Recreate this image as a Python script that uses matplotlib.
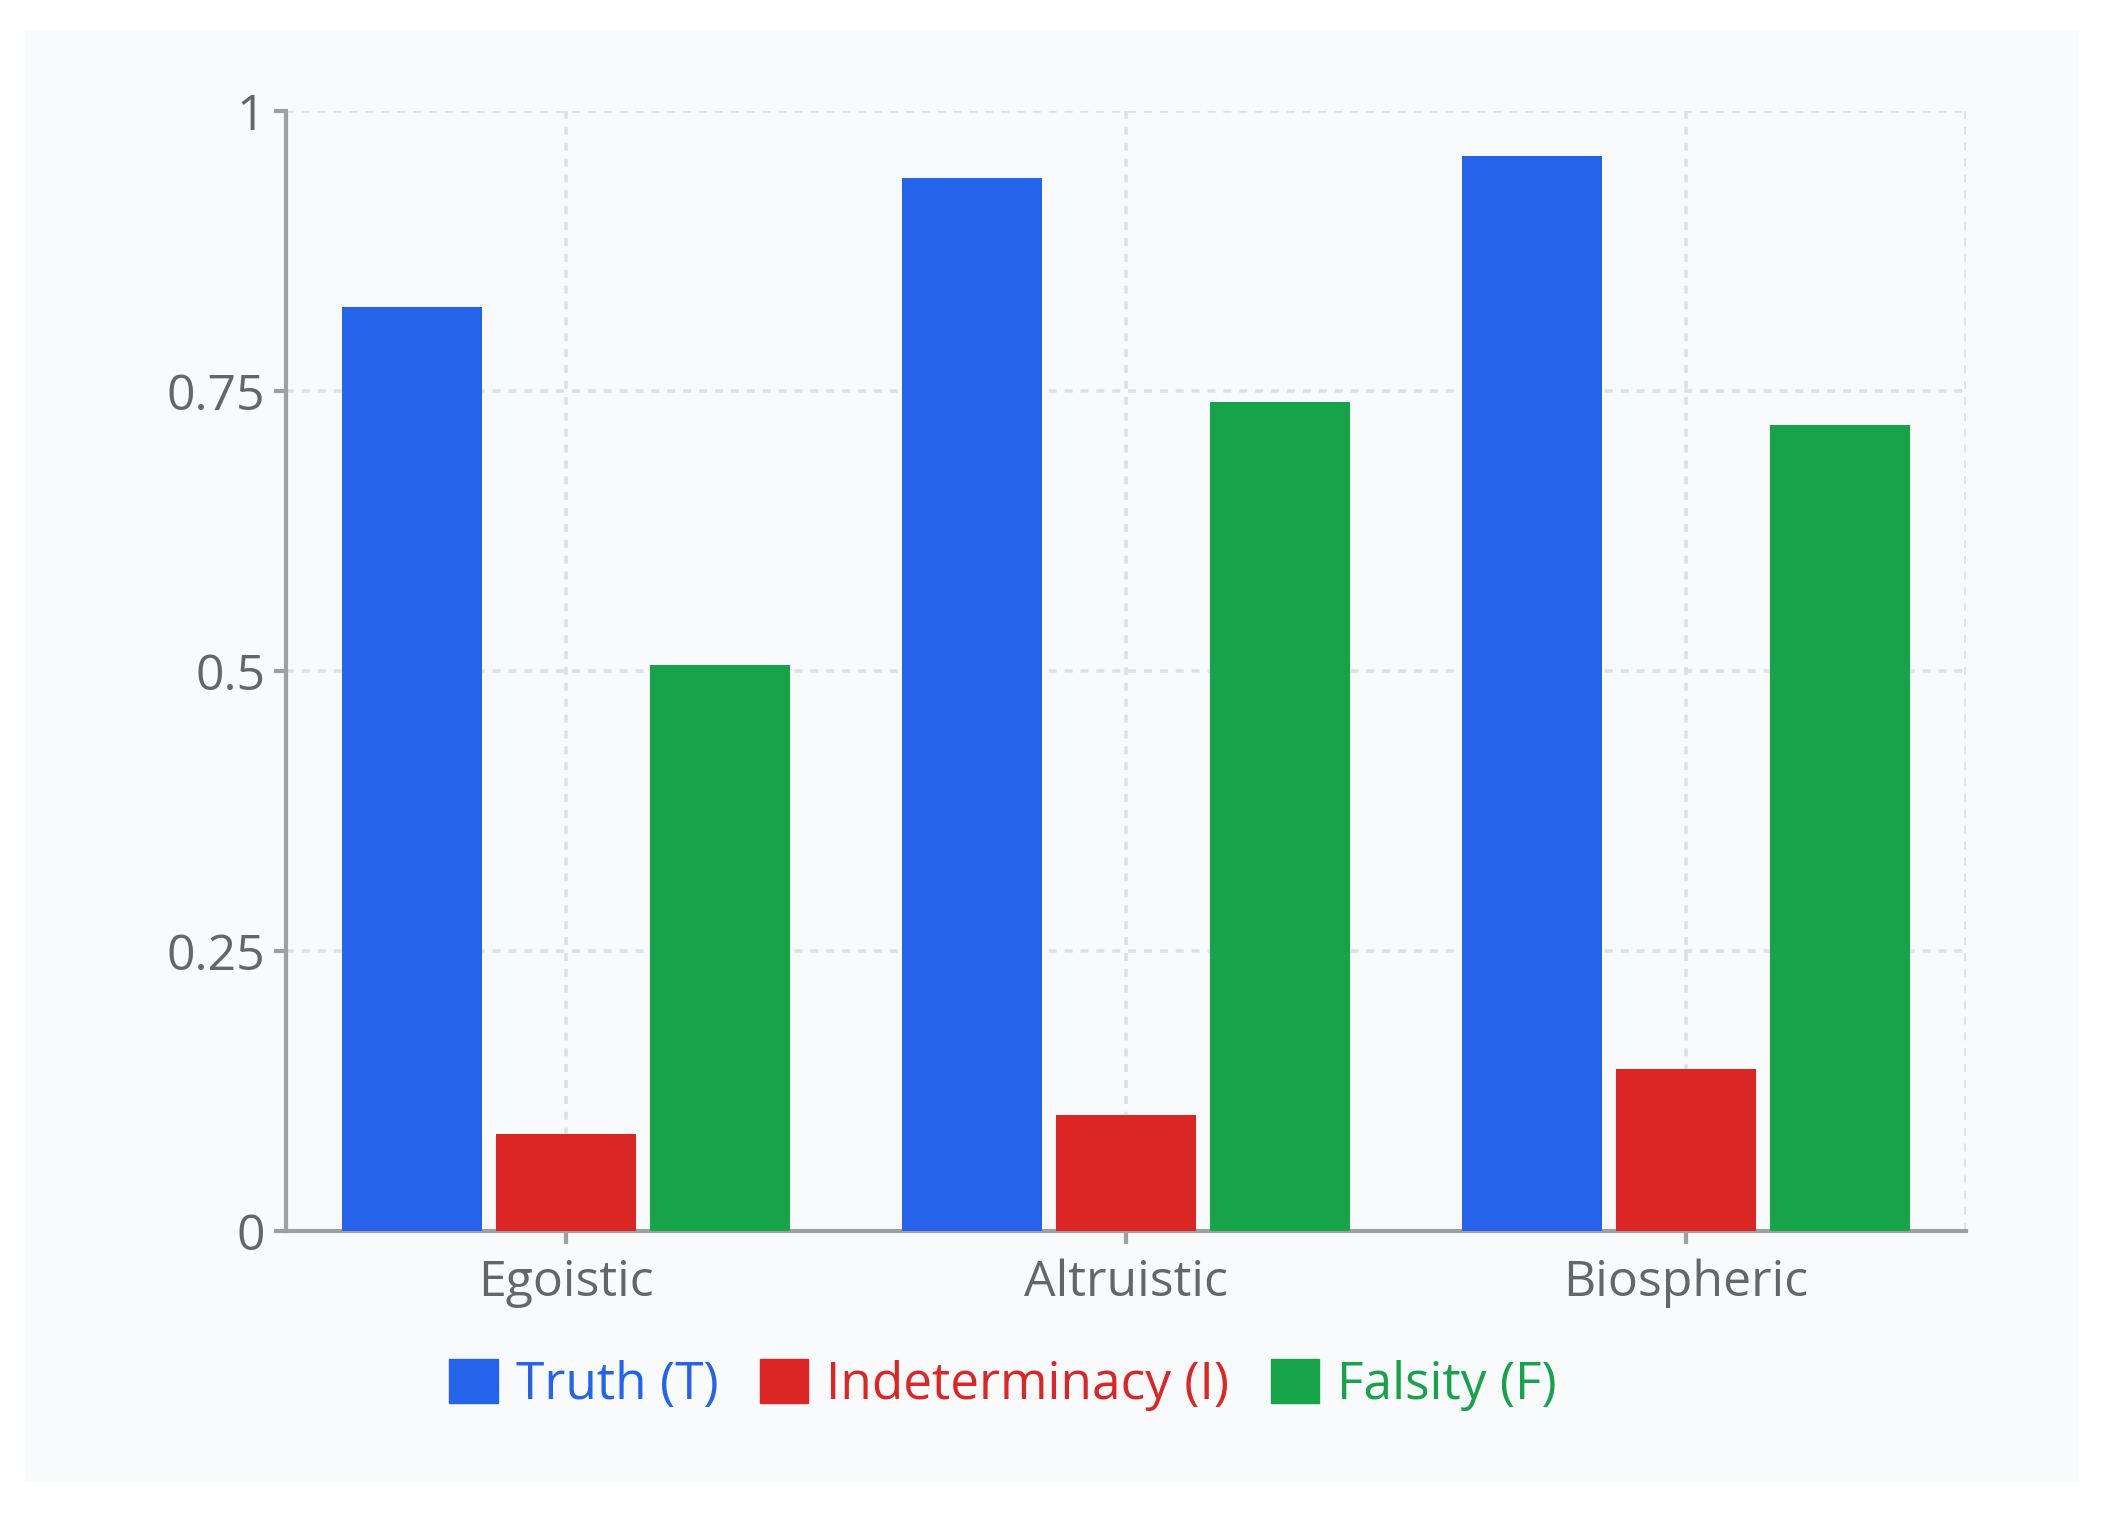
import matplotlib.pyplot as plt
import matplotlib.patches as mpatches
import numpy as np

# data
categories = ['Egoistic', 'Altruistic', 'Biospheric']
series_names = ['Truth (T)', 'Indeterminacy (I)', 'Falsity (F)']
truth = [0.825, 0.94, 0.96]
indeterminacy = [0.087, 0.104, 0.145]
falsity = [0.505, 0.74, 0.72]
colors = ['#2563eb', '#dc2626', '#16a34a']
yticks = [0, 0.25, 0.5, 0.75, 1]
ytick_labels = ['0', '0.25', '0.5', '0.75', '1']

plt.rcParams['font.family'] = ['Open Sans', 'DejaVu Sans']

W, H = 2103, 1518
fig = plt.figure(figsize=(W / 100, H / 100), dpi=100)
fig.patch.set_facecolor('white')

# light panel behind the chart
fig.patches.append(mpatches.Rectangle((25 / W, 1 - 1482 / H), (2079 - 25) / W, (1482 - 30) / H,
                                      transform=fig.transFigure, facecolor='#f8fafc',
                                      edgecolor='none', zorder=-5))

ax = fig.add_axes([286 / W, 1 - 1231 / H, (1966 - 286) / W, (1231 - 111) / H])
ax.set_zorder(2)
ax.set_facecolor('none')

x = np.arange(len(categories))
width = 0.249
step = 0.275
for i, (vals, name) in enumerate(zip([truth, indeterminacy, falsity], series_names)):
    ax.bar(x + (i - 1) * step, vals, width, color=colors[i], label=name, zorder=3)

ax.set_xlim(-0.5, len(categories) - 0.5)
ax.set_ylim(0, 1)
ax.set_xticks(x)
ax.set_xticklabels(categories)
ax.set_yticks(yticks)
ax.set_yticklabels(ytick_labels)

# grid
grid_kw = dict(color='#e0e0e0', linestyle=(0, (2.2, 2.2)), linewidth=2.6)
ax.set_axisbelow(True)
ax.grid(True, **grid_kw)
ax.axvline(ax.get_xlim()[1], zorder=1, **grid_kw)

for s in ['top', 'right']:
    ax.spines[s].set_visible(False)
for s in ['left', 'bottom']:
    ax.spines[s].set_color('#a0a0a0')
    ax.spines[s].set_linewidth(3)

ax.tick_params(axis='both', colors='#a0a0a0', width=3, length=9, labelsize=36,
               labelcolor='#666666')
ax.tick_params(axis='x', pad=11)
ax.tick_params(axis='y', pad=6)

handles = [mpatches.Patch(color=c) for c in colors]
fig.legend(handles, series_names, loc='center', bbox_to_anchor=(1003 / W, 1 - 1385 / H),
           ncol=3, frameon=False, fontsize=37, labelcolor=colors,
           handlelength=0.95, handleheight=0.95, handletextpad=0.35, columnspacing=0.8)

fig.savefig('out.png', dpi=100, facecolor='white')
